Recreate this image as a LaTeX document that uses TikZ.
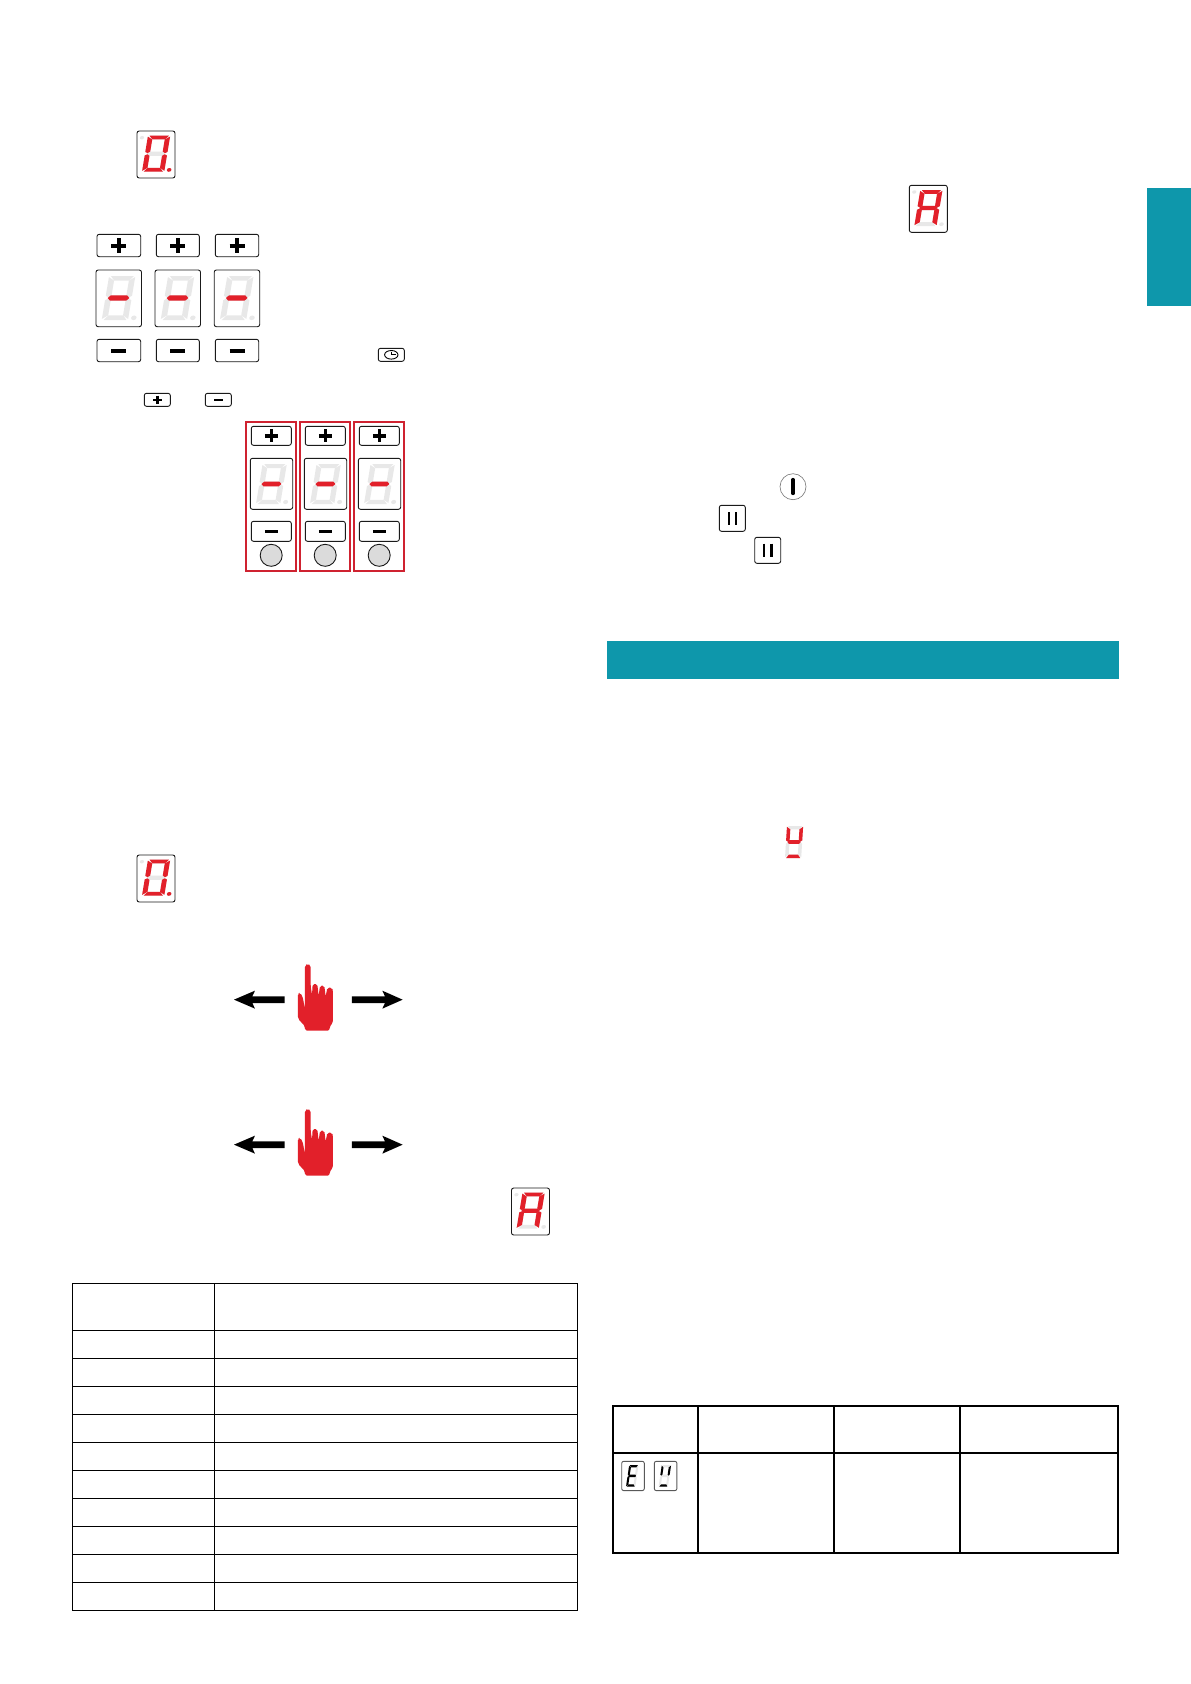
\documentclass[tikz,border=0pt]{standalone}
\usetikzlibrary{calc}
\definecolor{teal1}{HTML}{0E97AB}
\definecolor{segred}{HTML}{E2202A}
\definecolor{seggray}{HTML}{E8E8E8}
\definecolor{redframe}{HTML}{CF2230}
\definecolor{ink}{HTML}{1A1A1A}
\tikzset{
  seg a/.style={insert path={(0.7,20)--(9.5,20)--(8.0,17.9)--(2.3,17.9)--cycle}},
  seg b/.style={insert path={(10.1,19.5)--(10.1,11)--(9,10.3)--(7.9,11.2)--(7.9,17.9)--cycle}},
  seg c/.style={insert path={(10.1,0.5)--(10.1,9)--(9,9.7)--(7.9,8.8)--(7.9,2.1)--cycle}},
  seg d/.style={insert path={(0.7,0)--(9.5,0)--(8.0,2.1)--(2.3,2.1)--cycle}},
  seg e/.style={insert path={(0,0.5)--(0,9)--(1.1,9.7)--(2.2,8.8)--(2.2,2.1)--cycle}},
  seg f/.style={insert path={(0,19.5)--(0,11)--(1.1,10.3)--(2.2,11.2)--(2.2,17.9)--cycle}},
  seg g/.style={insert path={(0.9,10)--(1.9,11.2)--(8.2,11.2)--(9.2,10)--(8.2,8.8)--(1.9,8.8)--cycle}},
  seg p/.style={insert path={(12.2,1) circle[radius=1.05]}},
  seg q/.style={insert path={(-2.6,18.9) circle[radius=0.95]}},
  framebox/.style={draw=ink,line width=0.9pt,rounded corners=2.2pt,fill=white},
  keybox/.style={draw=ink,line width=0.9pt,rounded corners=2.2pt,fill=white},
  gridline/.style={draw=black,line width=1.1pt},
  heavygrid/.style={draw=black,line width=2pt},
  tealfill/.style={fill=teal1},
  keymark/.style={draw=black,line cap=butt},
}
% origin x, origin y, sx, sy, slant per unit y (px), lit colour, lit list, grey list
\newcommand{\dispdigit}[8]{%
  \begin{scope}[shift={(#1,#2)},x={(#3 pt,0pt)},y={(#5 pt,#4 pt)}]
    \foreach \s in {#8}{\edef\tmpseg{\noexpand\fill[seggray,seg \s];}\tmpseg}
    \foreach \s in {#7}{\edef\tmpseg{\noexpand\fill[#6,seg \s];}\tmpseg}
  \end{scope}}
\newcommand{\smalldisp}[3]{% box top-left, lit list
  \draw[framebox] (#1,#2) rectangle ++(38,47);
  \dispdigit{#1+5.0}{#2+40.7}{2.2}{1.8}{0.3}{segred}{#3}{a,b,c,d,e,f,g,p,q}}
\newcommand{\meddisp}[1]{%
  \draw[framebox] (#1,270) rectangle ++(45.5,56.7);
  \dispdigit{#1+5.7}{320}{2.6}{2.2}{0.37}{segred}{g}{a,b,c,d,e,f,g,p}}
\newcommand{\reddisp}[1]{% left of red frame
  \draw[framebox] (#1+4.6,458.3) rectangle ++(42.4,51);
  \dispdigit{#1+10.3}{504}{2.4}{2}{0.33}{segred}{g}{a,b,c,d,e,f,g,p}}
\newcommand{\icondisp}[2]{%
  \draw[draw=black!65,line width=0.9pt,rounded corners=2pt,fill=white] (#1,1461.3) rectangle ++(22.6,29.3);
  \dispdigit{#1+4.3}{1486.7}{0.92}{1.08}{0.16}{black}{#2}{a,b,c,d,e,f,g}}
\newcommand{\plusbtn}[6]{%
  \draw[keybox] (#1,#2) rectangle (#3,#4);
  \coordinate (kc) at ($(#1,#2)!.5!(#3,#4)$);
  \draw[keymark,line width=#6pt] ($(kc)+(-#5,0)$) -- ($(kc)+(#5,0)$);
  \draw[keymark,line width=#6pt] ($(kc)+(0,-#5)$) -- ($(kc)+(0,#5)$);}
\newcommand{\minusbtn}[6]{%
  \draw[keybox] (#1,#2) rectangle (#3,#4);
  \coordinate (kc) at ($(#1,#2)!.5!(#3,#4)$);
  \draw[keymark,line width=#6pt] ($(kc)+(-#5,0)$) -- ($(kc)+(#5,0)$);}
\newcommand{\handmark}[2]{%
  \begin{scope}[shift={(#1,#2)},x=0.3333pt,y=-0.3333pt]
    \fill[black] (42,149)--(105,122)--(97,139)--(194,139)--(194,159)--(97,159)--(105,176)--cycle;
    \fill[black] (548,149)--(487,122)--(495,139)--(396,139)--(396,159)--(495,159)--(487,176)--cycle;
    \fill[segred,rounded corners=1.8pt] (255,242)--(255,229)--(234,206)--(234,130)--(240,128)--(248,140)--(255,178)--(255,46)--(263,41)--(272,46)--(272,108)--(276,135)--(278,102)--(292,102)--(296,138)--(300,107)--(313,107)--(317,140)--(322,113)--(336,113)--(339,122)--(339,218)--(329,229)--(329,242)--cycle;
  \end{scope}}
\begin{document}
\begin{tikzpicture}[x=1pt,y=-1pt]
\useasboundingbox (0,0) rectangle (1191,1684);
\fill[white] (0,0) rectangle (1191,1684);
% teal areas
\fill[tealfill] (1147,188) rectangle (1191,306);
\fill[tealfill] (607,641) rectangle (1119,678.7);
% single displays
\smalldisp{137}{131}{a,b,c,d,e,f,p}
\smalldisp{137}{855}{a,b,c,d,e,f,p}
\smalldisp{909.3}{185.3}{a,b,c,e,f,g}
\smalldisp{511.5}{1188}{a,b,c,e,f,g}
% three buttons + displays
\plusbtn{97}{234.3}{140.7}{256.7}{7.5}{4}
\plusbtn{156.3}{234.3}{199.3}{256.7}{7.5}{4}
\plusbtn{215.3}{234.3}{258.7}{256.7}{7.5}{4}
\meddisp{96}
\meddisp{155}
\meddisp{214.2}
\minusbtn{97}{339.3}{140.7}{361.7}{7.5}{4}
\minusbtn{156.3}{339.3}{199.3}{361.7}{7.5}{4}
\minusbtn{215.3}{339.3}{258.7}{361.7}{7.5}{4}
% clock key
\draw[keybox] (378.3,348.3) rectangle (404.3,361.3);
\draw[draw=black,line width=0.9pt] (391.3,354.8) ellipse[x radius=6.7,y radius=4.3];
\draw[draw=black,line width=0.8pt] (391.5,351.5) -- (391.5,354.8) -- (395.5,354.8);
% small + and -
\plusbtn{144.3}{393.3}{170.3}{406.3}{4.2}{2.6}
\minusbtn{205.3}{393.3}{231.3}{406.3}{4.2}{2.6}
% red framed columns
\foreach \fx in {245.7,299.7,353.7}{
  \draw[draw=redframe,line width=2pt] (\fx,421.7) rectangle ++(50.6,149.6);
  \plusbtn{\fx+5.6}{426.3}{\fx+45.6}{445.3}{6.5}{3.6}
  \reddisp{\fx}
  \minusbtn{\fx+5.6}{521.3}{\fx+45.6}{541.3}{6.5}{3.6}
  \draw[draw=ink,line width=0.9pt,fill=black!14] (\fx+25.5,555.3) circle[radius=11];
}
% hands
\handmark{220}{950}
\handmark{220}{1095}
% power and pause keys
\draw[draw=black!55,line width=0.6pt] (793,486.7) circle[radius=13];
\draw[draw=black,line width=3.2pt,line cap=round] (793,479.5) -- (793,493.5);
\draw[keybox] (719.3,505.3) rectangle (745.3,531.3);
\draw[keymark,line width=1.8pt] (728.7,512) -- (728.7,524.7);
\draw[keymark,line width=1.8pt] (735.6,512) -- (735.6,524.7);
\draw[keybox] (754.7,537.3) rectangle (780.7,563.3);
\draw[keymark,line width=2.8pt] (764,543.5) -- (764,556.7);
\draw[keymark,line width=2.8pt] (771.3,543.5) -- (771.3,556.7);
% free digit
\dispdigit{785}{858}{1.6}{1.6}{0.1}{segred}{b,f,g,d}{a,b,c,d,e,f,g}
% left table
\draw[gridline] (72.3,1283.3) rectangle (577.3,1610.3);
\draw[gridline] (214.7,1283.3) -- (214.7,1610.3);
\foreach \k in {0,...,9}{
  \draw[gridline] (72.3,1330.3+28*\k) -- (577.3,1330.3+28*\k);
}
% right table
\draw[heavygrid] (612.7,1406) rectangle (1118,1552.7);
\draw[heavygrid] (612.7,1452.7) -- (1118,1452.7);
\foreach \cx in {697.7,834,959.7}{
  \draw[heavygrid] (\cx,1406) -- (\cx,1552.7);
}
\icondisp{621.7}{a,d,e,f,g}
\icondisp{654.3}{b,f,d}
\end{tikzpicture}
\end{document}
